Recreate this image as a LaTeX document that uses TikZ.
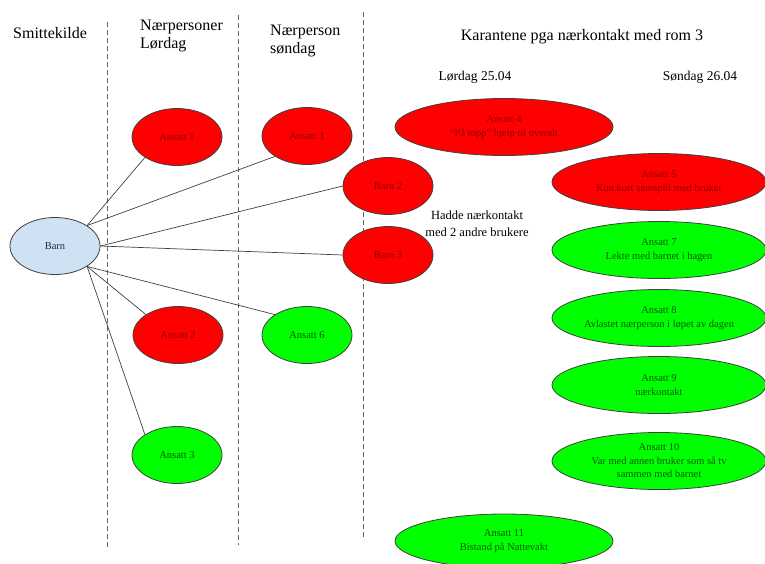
\documentclass[tikz,border=0pt]{standalone}
\usepackage{fontspec}
\setmainfont{Liberation Serif}
\usetikzlibrary{shapes.geometric}
\definecolor{barnblue}{HTML}{CFE2F3}
\definecolor{barntext}{HTML}{1C2A40}
\begin{document}
\begin{tikzpicture}[x=1pt, y=-1pt,
    ell/.style={ellipse, draw=black!75, line width=0.8pt, inner sep=0pt, align=center, font=\fontsize{10.5}{13.5}\selectfont},
    small/.style={ell, minimum width=90pt, minimum height=57pt},
    wide/.style={ell, inner xsep=-15pt, minimum width=214pt, minimum height=57pt},
    rednode/.style={fill=red, text=red!55!black},
    grnnode/.style={fill=green, text=green!35!black},
    head/.style={font=\fontsize{16}{18}\selectfont, align=left, inner sep=0pt},
    sub/.style={font=\fontsize{13.5}{16}\selectfont},
    link/.style={draw=black!75, line width=0.7pt}]
  \useasboundingbox (0,0) rectangle (765,563);
  \foreach \xa/\ya/\yb in {107/22/547, 238/15/545, 363/12/538}
    \draw[dash pattern=on 5pt off 3pt, black!60, line width=0.8pt] (\xa,\ya) -- (\xa,\yb);

  % column headings
  \node[head, anchor=base west] (sk) at (13,38) {Smittekilde};
  \node[head, anchor=west] (nl) at (140,36) {Nærpersoner\\Lørdag};
  \node[head, anchor=west] (ns) at (270,41) {Nærperson\\søndag};
  \node[head, anchor=base] (kar) at (582,40) {Karantene pga nærkontakt med rom 3};
  \node[sub, anchor=base] (lor) at (475,80) {Lørdag 25.04};
  \node[sub, anchor=base] (son) at (700,80) {Søndag 26.04};

  % contacts
  \node[small, fill=barnblue, text=barntext] (barn) at (55,246) {Barn};
  \node[small, rednode] (a1l) at (177,137) {Ansatt 1};
  \node[small, rednode] (a1s) at (307,136) {Ansatt 1};
  \node[small, rednode] (b2) at (388,186) {Barn 2};
  \node[small, rednode] (b3) at (388,255) {Barn 3};
  \node[small, rednode] (a2) at (178,335) {Ansatt 2};
  \node[small, grnnode] (a6) at (307,335) {Ansatt 6};
  \node[small, grnnode] (a3) at (177,455) {Ansatt 3};
  \node[font=\fontsize{12.5}{17}\selectfont, align=center] (hadde) at (477,224) {Hadde nærkontakt\\med 2 andre brukere};

  % quarantine
  \node[wide, rednode, minimum width=218pt] (a4) at (504,127) {Ansatt 4\\“På topp” hjelp til overalt};
  \node[wide, rednode] (a5) at (659,182) {Ansatt 5\\Kun kort samspill med bruker};
  \node[wide, grnnode] (a7) at (659,250) {Ansatt 7\\Lekte med barnet i hagen};
  \node[wide, grnnode] (a8) at (659,318) {Ansatt 8\\Avlastet nærperson i løpet av dagen};
  \node[wide, grnnode] (a9) at (659,385) {Ansatt 9\\nærkontakt};
  \node[wide, grnnode] (a10) at (659,461) {Ansatt 10\\Var med annen bruker som så tv\\sammen med barnet};
  \node[wide, grnnode, minimum width=218pt, minimum height=54pt] (a11) at (504,541) {Ansatt 11\\Bistand på Nattevakt};

  \draw[link] (barn.north east) -- (a1l.south west);
  \draw[link] (barn.north east) -- (a1s.south west);
  \draw[link] (barn.east) -- (b2.west);
  \draw[link] (barn.east) -- (b3.west);
  \draw[link] (barn.south east) -- (a6.north west);
  \draw[link] (barn.south east) -- (a2.north west);
  \draw[link] (barn.south east) -- (a3.north west);
\end{tikzpicture}
\end{document}
